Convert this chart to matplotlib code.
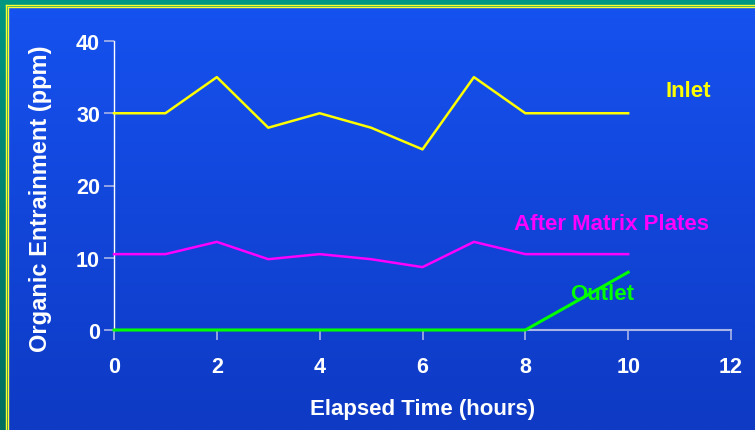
import numpy as np
import matplotlib
matplotlib.use("Agg")
import matplotlib.pyplot as plt
from matplotlib.lines import Line2D

plt.rcParams['font.family'] = ['Liberation Sans', 'DejaVu Sans']

hours = [0, 1, 2, 3, 4, 5, 6, 7, 8, 9, 10]
inlet = [30, 30, 35, 28, 30, 28, 25, 35, 30, 30, 30]
after_plates = [10.5, 10.5, 12.2, 9.8, 10.5, 9.8, 8.7, 12.2, 10.5, 10.5, 10.5]
outlet = [0, 0, 0, 0, 0, 0, 0, 0, 0, 4, 8]

x_ticks = [0, 2, 4, 6, 8, 10, 12]
y_ticks = [0, 10, 20, 30, 40]

W, H = 755, 431
fig = plt.figure(figsize=(W / 100, H / 100), dpi=100)

# slide background: blue gradient with teal/yellow frame on the left and top
bg = fig.add_axes([0, 0, 1, 1])
bg.set_xlim(0, W)
bg.set_ylim(H, 0)
bg.axis('off')
t = np.linspace(0, 1, 256).reshape(-1, 1)
top = np.array([22, 82, 240]) / 255
bot = np.array([14, 58, 196]) / 255
grad = (top * (1 - t) + bot * t).reshape(256, 1, 3)
bg.imshow(grad, extent=[0, W, H, 0], aspect='auto', zorder=0)
tt = np.array([0, 150, 130]) / 255
tb = np.array([0, 110, 95]) / 255
teal = (tt * (1 - t) + tb * t).reshape(256, 1, 3)
bg.imshow(teal, extent=[0, 9, H, 0], aspect='auto', zorder=1)
bg.imshow(np.array([[tt]]), extent=[0, W, 9, 0], aspect='auto', zorder=1)
for p in (5.5, 7.8):
    bg.add_line(Line2D([p, p], [p, H], color='#FFFF30', lw=1.0, zorder=2))
    bg.add_line(Line2D([p, W], [p, p], color='#FFFF30', lw=1.0, zorder=2))

ax = fig.add_axes([114 / W, 1 - 331 / H, (731 - 114) / W, (331 - 42) / H])
ax.set_facecolor('none')
ax.set_xlim(0, 12)
ax.set_ylim(0, 40)

ax.plot(hours, inlet, color='#FFFF00', lw=1.8, clip_on=False, zorder=3)
ax.plot(hours, after_plates, color='#FF00FF', lw=1.8, clip_on=False, zorder=3)
ax.plot(hours, outlet, color='#00FF00', lw=2.2, clip_on=False, zorder=4)

for s in ('top', 'right'):
    ax.spines[s].set_visible(False)
ax.spines['left'].set_color('white')
ax.spines['left'].set_linewidth(1.0)
ax.spines['bottom'].set_color('#A8B4E8')
ax.spines['bottom'].set_linewidth(1.5)

ax.set_xticks(x_ticks)
ax.set_yticks(y_ticks)
ax.tick_params(axis='x', colors='#A8B4E8', length=7, width=1.2, direction='out',
               labelcolor='white', labelsize=15.5, pad=12)
ax.tick_params(axis='y', colors='#A8B4E8', length=7, width=1.2, direction='out',
               labelcolor='white', labelsize=15.5, pad=3)
for lab in ax.get_xticklabels() + ax.get_yticklabels():
    lab.set_fontweight('bold')

ax.set_xlabel('Elapsed Time (hours)', color='white', fontsize=16,
              fontweight='bold', labelpad=15)
ax.set_ylabel('Organic Entrainment (ppm)', color='white', fontsize=17,
              fontweight='bold')
ax.yaxis.set_label_coords(-0.1005, 0.457)

ax.text(11.17, 33.1, 'Inlet', color='#FFFF00', fontsize=16, fontweight='bold',
        ha='center', va='center')
ax.text(9.67, 14.7, 'After Matrix Plates', color='#FF00FF', fontsize=16,
        fontweight='bold', ha='center', va='center')
ax.text(9.5, 5.1, 'Outlet', color='#00FF00', fontsize=16, fontweight='bold',
        ha='center', va='center', zorder=5)

fig.savefig('out.png', dpi=100)
